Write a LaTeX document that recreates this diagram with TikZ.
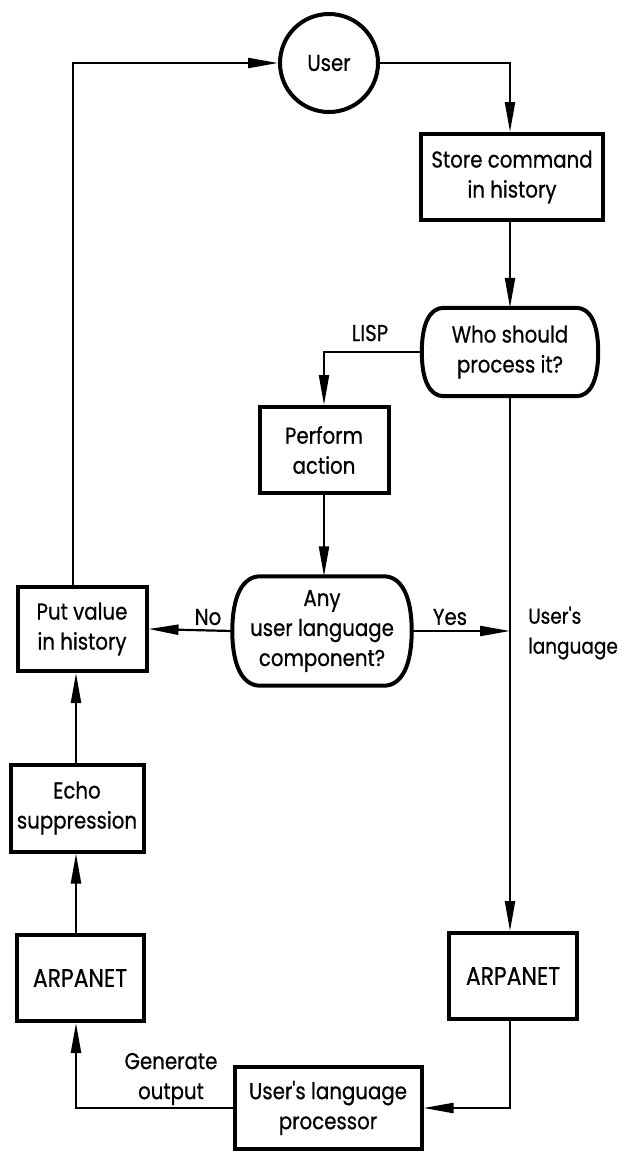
\documentclass[tikz,border=0pt]{standalone}
\usepackage{fontspec}
\newfontfamily\gfont[FakeStretch=0.86,FakeBold=0.6]{Poppins}
\usetikzlibrary{shapes.geometric,arrows.meta,calc}
\newcommand\decpath[3]{%
 \draw[decline] ($(#1.north west)+(#2,0)$) -- ($(#1.north east)+(-#2,0)$)
  .. controls ($(#1.north east)+(-#2*0.35,0)$) and ($(#1.east)+(0,-#3)$) .. (#1.east)
  .. controls ($(#1.east)+(0,#3)$) and ($(#1.south east)+(-#2*0.35,0)$) .. ($(#1.south east)+(-#2,0)$)
  -- ($(#1.south west)+(#2,0)$)
  .. controls ($(#1.south west)+(#2*0.35,0)$) and ($(#1.west)+(0,#3)$) .. (#1.west)
  .. controls ($(#1.west)+(0,-#3)$) and ($(#1.north west)+(#2*0.35,0)$) .. cycle;}
\begin{document}
\begin{tikzpicture}[x=1pt,y=-1pt,
  txt/.style={font=\gfont\fontsize{23}{30}\selectfont, align=center},
  box/.style={txt, draw, line width=4pt, rectangle, inner sep=0pt},
  capbox/.style={box, font=\gfont\fontsize{25.5}{30}\selectfont},
  dec/.style={txt, rectangle, inner sep=0pt},
  decline/.style={line width=4pt, line join=round},
  conn/.style={line width=2.2pt},
  arr/.style={conn, -{Triangle[length=30pt,width=10pt]}},
  lbl/.style={txt, inner sep=0pt}
]
\useasboundingbox (0,0) rectangle (624,1152);
\fill[white] (0,0) rectangle (624,1152);

\node[txt, draw, line width=4pt, circle, minimum size=98pt, inner sep=0pt] (user) at (329,63) {User};
\node[box, minimum width=182pt, minimum height=86pt] (store) at (512,177) {Store command\\in history};
\node[dec, minimum width=176pt, minimum height=88pt] (who) at (510,352) {Who should\\process it?};
\node[box, minimum width=129pt, minimum height=86pt] (perform) at (324,450) {Perform\\action};
\node[dec, minimum width=179pt, minimum height=109pt] (any) at (322,631) {Any\\user language\\component?};
\node[box, minimum width=129pt, minimum height=84pt] (put) at (82,629) {Put value\\in history};
\node[box, minimum width=133pt, minimum height=87pt] (echo) at (77,808) {Echo\\suppression};
\node[capbox, minimum width=127pt, minimum height=86pt] (arpL) at (80,978) {ARPANET};
\node[capbox, minimum width=128pt, minimum height=86pt] (arpR) at (513,976) {ARPANET};
\node[box, minimum width=187pt, minimum height=82pt] (proc) at (328,1108) {User's language\\processor};
\decpath{who}{22}{28}
\decpath{any}{28}{34}

\coordinate (lt) at (73,63);
\coordinate (lc) at (76,0);
\coordinate (rl) at (510,632);

\draw[arr] (put.north -| lt) -- (lt) -- (user.west);
\draw[arr] (user.east) -| (who.north |- store.north);
\draw[arr] (store.south -| who.north) -- (who.north);
\draw[arr] (who.west) -| (perform.north);
\draw[arr] (who.south) -- (who.south |- arpR.north);
\draw[arr] (perform.south) -- (perform.south |- any.north);
\draw[arr] (any.east) -- (any.east -| rl);
\draw[arr] (any.west) -- (put.east);
\draw[arr] (echo.north -| lc) -- (put.south -| lc);
\draw[arr] (arpL.north -| lc) -- (echo.south -| lc);
\draw[arr] (arpR.south -| who.south) |- (proc.east);
\draw[arr] (proc.west) -| (arpL.south -| lc);

\node[lbl] (lisp) at (370,333) {LISP};
\node[lbl] (no) at (208,617) {No};
\node[lbl] (yes) at (450,617) {Yes};
\node[lbl, align=left, anchor=west, font=\gfont\fontsize{21.5}{30}\selectfont] (ul) at (528,633) {User's\\language};
\node[lbl] (gen) at (171,1079) {Generate\\output};
\end{tikzpicture}
\end{document}
